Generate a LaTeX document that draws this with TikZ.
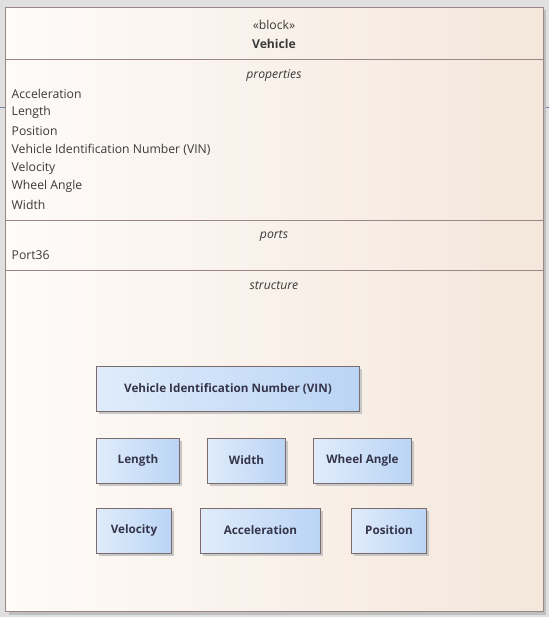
\documentclass[tikz,border=0pt]{standalone}
\usepackage{fontspec}
\setmainfont{Open Sans}
\usepackage{xcolor}
\definecolor{canvascolor}{HTML}{E0E0E0}
\definecolor{rulecolor}{HTML}{6F7FA3}
\definecolor{blockborder}{HTML}{9A8686}
\definecolor{blockleft}{HTML}{FEFBF9}
\definecolor{blockright}{HTML}{F4E7DB}
\definecolor{partborder}{HTML}{7D6C6C}
\definecolor{partleft}{HTML}{E0ECFB}
\definecolor{partright}{HTML}{BAD4F5}
\definecolor{textcolor}{HTML}{3A3A3A}
\definecolor{parttext}{HTML}{35354A}
\usepackage{tikz}
\usetikzlibrary{positioning,shadows}
\tikzset{
    blockframe/.style={
        rectangle,
        draw=blockborder,
        left color=blockleft,
        right color=blockright,
        line width=1pt,
        minimum width=537pt,
        minimum height=604pt,
        inner sep=0pt,
        drop shadow={shadow xshift=3pt, shadow yshift=-3pt, fill=black!25, opacity=1},
    },
    separator/.style={
        draw=blockborder,
        line width=1pt,
    },
    part/.style={
        rectangle,
        draw=partborder,
        left color=partleft,
        right color=partright,
        text=parttext,
        minimum height=45pt,
        align=center,
        line width=1pt,
        inner sep=0pt,
        font=\bfseries\fontsize{11.7}{13}\selectfont,
        drop shadow={shadow xshift=2.5pt, shadow yshift=-2.5pt, fill=black!22, opacity=1},
    },
    heading/.style={
        text=textcolor,
        font=\fontsize{12.2}{14}\selectfont,
        inner sep=0pt,
        yshift=-1pt,
    },
    title/.style={
        heading,
        font=\itshape\fontsize{12.2}{14}\selectfont,
    },
    entry/.style={
        heading,
        anchor=west,
    },
}

\begin{document}
\begin{tikzpicture}[x=1pt, y=-1pt]
        \fill[canvascolor] (0,0) rectangle (548,617);
        \draw[rulecolor, line width=1pt] (0,108) -- (548,108);

        \node[blockframe, anchor=north west] (vehicle) at (5,7) {};

        % compartments
        \draw[separator] (5,60) -- (542,60);
        \draw[separator] (5,221) -- (542,221);
        \draw[separator] (5,270) -- (542,270);

        \node[heading] (stereo) at (273.5,24) {«block»};
        \node[heading, font=\bfseries\fontsize{12.2}{14}\selectfont] (name) at (273.5,43) {Vehicle};

        \node[title] (props) at (273.5,74) {properties};
        \node[entry] (p1) at (11,93) {Acceleration};
        \node[entry] (p2) at (11,111.5) {Length};
        \node[entry] (p3) at (11,130) {Position};
        \node[entry] (p4) at (11,148.5) {Vehicle Identification Number (VIN)};
        \node[entry] (p5) at (11,167) {Velocity};
        \node[entry] (p6) at (11,185.5) {Wheel Angle};
        \node[entry] (p7) at (11,204) {Width};

        \node[title] (ports) at (273.5,235) {ports};
        \node[entry] (port36) at (11,254) {Port36};

        \node[title] (struct) at (273.5,285) {structure};

        % parts
        \node[part, minimum width=263pt] (vin) at (227.5,388.5) {Vehicle Identification Number (VIN)};
        \node[part, minimum width=83pt, minimum height=45pt, below right=26pt and 0pt of vin.south west] (length) {Length};
        \node[part, minimum width=78pt, right=27pt of length] (width) {Width};
        \node[part, minimum width=98pt, right=27pt of width] (wheel) {Wheel Angle};
        \node[part, minimum width=75pt, below right=24pt and 0pt of length.south west] (velocity) {Velocity};
        \node[part, minimum width=120pt, right=28pt of velocity] (accel) {Acceleration};
        \node[part, minimum width=75pt, right=30pt of accel] (position) {Position};
\end{tikzpicture}
\end{document}
